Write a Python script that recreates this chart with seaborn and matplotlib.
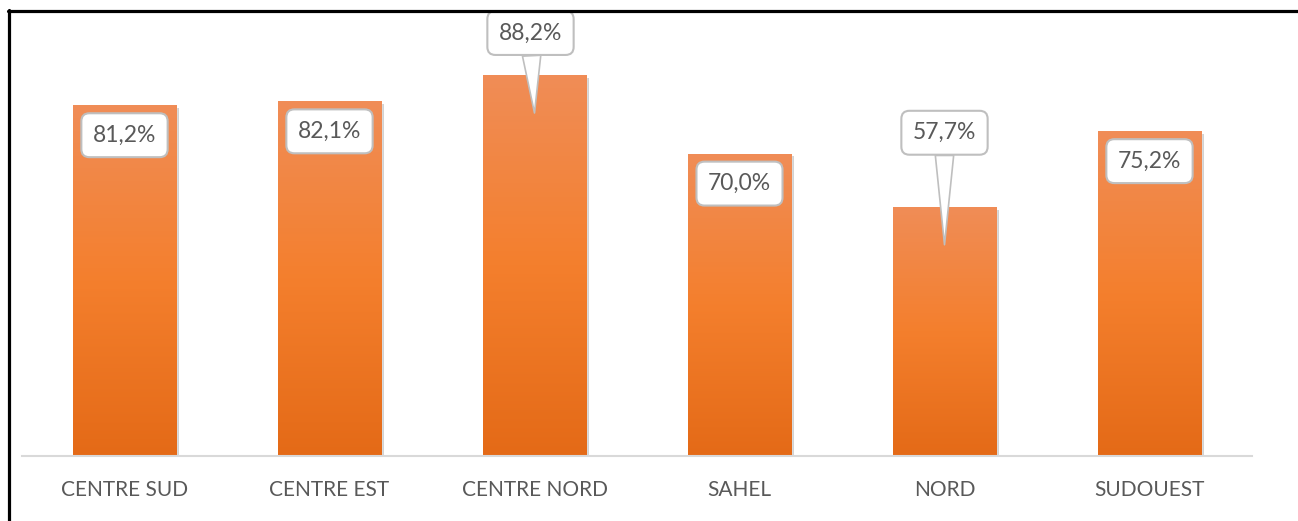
import seaborn as sns
import matplotlib.pyplot as plt
import pandas as pd
import numpy as np
from matplotlib.lines import Line2D
from matplotlib.colors import LinearSegmentedColormap
from matplotlib import patheffects as pe

regions = ['CENTRE SUD', 'CENTRE EST', 'CENTRE NORD', 'SAHEL', 'NORD', 'SUDOUEST']
taux = [81.2, 82.1, 88.2, 70.0, 57.7, 75.2]

# label placement: None = inside the bar, else callout offset in pixels (dx, dy)
callouts = [None, None, (-4, 80), None, (0, 112), None]

df = pd.DataFrame({'region': regions, 'taux': taux})

sns.set_style('white')
plt.rcParams['font.family'] = ['Lato', 'DejaVu Sans']

fig = plt.figure(figsize=(12.98, 5.21), dpi=100)
ax = fig.add_axes([22 / 1298, 65 / 521, 1230 / 1298, 432 / 521])
sns.barplot(data=df, x='region', y='taux', color='#F47F2D', saturation=1, width=0.507, ax=ax)

# vertical gradient on each bar
cmap = LinearSegmentedColormap.from_list('orange', ['#E46A17', '#F47F2D', '#F08D57'])
grad = np.linspace(0, 1, 256).reshape(-1, 1)
for p in ax.patches:
    x0, w, h = p.get_x(), p.get_width(), p.get_height()
    p.set_path_effects([pe.SimplePatchShadow(offset=(2, -2), shadow_rgbFace='#808080', alpha=0.35), pe.Normal()])
    im = ax.imshow(grad, cmap=cmap, origin='lower', aspect='auto',
                   extent=[x0, x0 + w, 0, h], zorder=p.get_zorder() + 0.1)
    im.set_clip_path(p)

ax.set_xlim(-0.5, 5.5)
ax.set_ylim(0, 100)

box = dict(boxstyle='round,pad=0.5,rounding_size=0.35', fc='white', ec='#BFBFBF', lw=1.5)
for i, v in enumerate(taux):
    txt = f'{v:.1f}%'.replace('.', ',')
    if callouts[i] is None:
        ax.annotate(txt, xy=(i, v), xytext=(0, -30), textcoords='offset pixels',
                    ha='center', va='center', fontsize=16.5, color='#595959', bbox=box, zorder=5)
    else:
        ax.annotate(txt, xy=(i, v - 8.8), xytext=callouts[i], textcoords='offset pixels',
                    ha='center', va='center', fontsize=16.5, color='#595959', bbox=box, zorder=5,
                    arrowprops=dict(arrowstyle='wedge,tail_width=0.8', fc='white', ec='#BFBFBF',
                                    lw=1.2, shrinkA=0, shrinkB=0))

ax.set_xlabel('')
ax.set_ylabel('')
ax.set_yticks([])
ax.tick_params(axis='x', length=0, pad=17, labelsize=15, labelcolor='#595959')
for s in ['left', 'right', 'top']:
    ax.spines[s].set_visible(False)
ax.spines['bottom'].set_color('#D9D9D9')
ax.spines['bottom'].set_linewidth(1.5)

# black frame on left and top
fig.add_artist(Line2D([9 / 1298, 9 / 1298], [0, 1 - 10 / 521], color='black', lw=2.3))
fig.add_artist(Line2D([8 / 1298, 1], [1 - 11 / 521, 1 - 11 / 521], color='black', lw=2.3))

plt.savefig('out.png', dpi=100)
